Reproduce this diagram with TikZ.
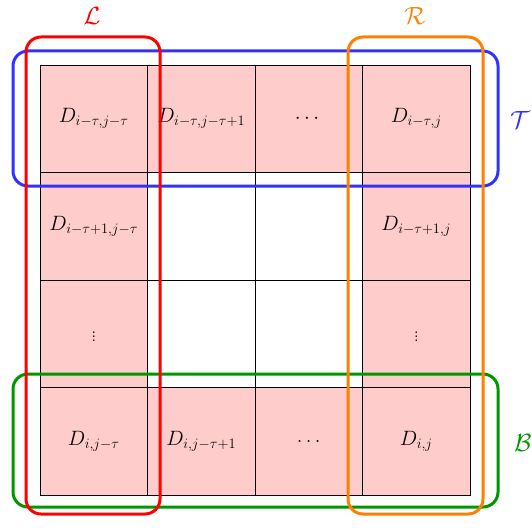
\documentclass[tikz,border=0pt]{standalone}
\usepackage{amsmath}
\definecolor{cred}{RGB}{255,0,0}
\definecolor{cblue}{RGB}{50,50,255}
\definecolor{cgreen}{RGB}{0,150,0}
\definecolor{corange}{RGB}{255,128,0}
\definecolor{cpink}{RGB}{255,204,204}
\begin{document}
\begin{tikzpicture}[x=1pt,y=-1pt,
  cellbox/.style={draw=black,line width=0.8pt,minimum width=107.5pt,minimum height=107.5pt,inner sep=0pt,outer sep=0pt,font=\fontsize{20}{22}\selectfont},
  pinkcell/.style={cellbox,fill=cpink},
  group/.style={draw=#1,line width=3pt,rounded corners=15pt,inner sep=0pt,outer sep=0pt},
  grouplabel/.style={text=#1,font=\fontsize{33}{36}\selectfont,inner sep=0pt}]
\useasboundingbox (0,0) rectangle (532,527);
% row 1
\node[pinkcell] (c11) at (93.75,118.75) {$D_{i-\tau,j-\tau}$};
\node[pinkcell] (c12) at (201.25,118.75) {$D_{i-\tau,j-\tau+1}$};
\node[pinkcell] (c13) at (308.75,118.75) {$\cdots$};
\node[pinkcell] (c14) at (416.25,118.75) {$D_{i-\tau,j}$};
% row 2
\node[pinkcell] (c21) at (93.75,226.25) {$D_{i-\tau+1,j-\tau}$};
\node[cellbox] (c22) at (201.25,226.25) {};
\node[cellbox] (c23) at (308.75,226.25) {};
\node[pinkcell] (c24) at (416.25,226.25) {$D_{i-\tau+1,j}$};
% row 3
\node[pinkcell] (c31) at (93.75,333.75) {$\vdots$};
\node[cellbox] (c32) at (201.25,333.75) {};
\node[cellbox] (c33) at (308.75,333.75) {};
\node[pinkcell] (c34) at (416.25,333.75) {$\vdots$};
% row 4
\node[pinkcell] (c41) at (93.75,441.25) {$D_{i,j-\tau}$};
\node[pinkcell] (c42) at (201.25,441.25) {$D_{i,j-\tau+1}$};
\node[pinkcell] (c43) at (308.75,441.25) {$\ldots$};
\node[pinkcell] (c44) at (416.25,441.25) {$D_{i,j}$};
% groups
\node[group=cblue,minimum width=485pt,minimum height=135pt] (T) at (255.5,118.5) {};
\node[group=cgreen,minimum width=485pt,minimum height=133pt] (B) at (255.5,440.5) {};
\node[group=cred,minimum width=134pt,minimum height=477pt] (L) at (93,275.5) {};
\node[group=corange,minimum width=135pt,minimum height=477pt] (R) at (415.5,275.5) {};
% labels
\node[grouplabel=cred] (Llab) at (92,16) {$\mathcal{L}$};
\node[grouplabel=corange] (Rlab) at (415,16) {$\mathcal{R}$};
\node[grouplabel=cblue] (Tlab) at (520,120) {$\mathcal{T}$};
\node[grouplabel=cgreen] (Blab) at (523,443) {$\mathcal{B}$};
\end{tikzpicture}
\end{document}
